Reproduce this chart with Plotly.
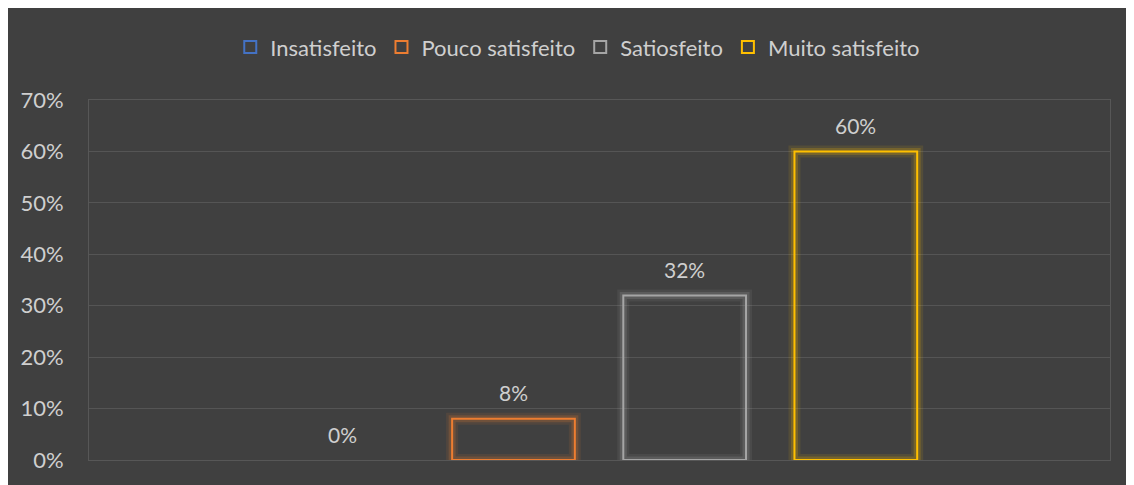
import plotly.graph_objects as go

# ---- data ----
series = ["Insatisfeito", "Pouco satisfeito", "Satiosfeito", "Muito satisfeito"]
values = [0.00, 0.08, 0.32, 0.60]
labels = ["0%", "8%", "32%", "60%"]
colors = ["#4472C4", "#ED7D31", "#A5A5A5", "#FFC000"]
glow = ["rgba(68,114,196,{a})", "rgba(237,125,49,{a})", "rgba(165,165,165,{a})", "rgba(255,192,0,{a})"]
ytick_vals = [0, 0.1, 0.2, 0.3, 0.4, 0.5, 0.6, 0.7]

BG = "#404040"
TXT = "#cfcfcf"
FONT = "Lato"
BAR_W = 0.717

fig = go.Figure()

# glow layers (below)
for i, (s, v) in enumerate(zip(series, values)):
    for w, a in [(12, 0.10), (7, 0.20)]:
        fig.add_trace(go.Bar(
            x=[i], y=[v], width=BAR_W, showlegend=False, hoverinfo="skip",
            marker=dict(color="rgba(0,0,0,0)",
                        line=dict(color=glow[i].format(a=a), width=w if v > 0 else 0)),
        ))

# main bars
for i, (s, v) in enumerate(zip(series, values)):
    fig.add_trace(go.Bar(
        x=[i], y=[v], width=BAR_W, name=s, legendgroup=s, showlegend=False,
        marker=dict(color="rgba(0,0,0,0)", line=dict(color=colors[i], width=2 if v > 0 else 0)),
    ))

# legend entries
for i, s in enumerate(series):
    fig.add_trace(go.Bar(
        x=[None], y=[None], name=s, legendgroup=s, showlegend=True,
        marker=dict(color="rgba(0,0,0,0)", line=dict(color=colors[i], width=2)),
    ))

for i, (v, t) in enumerate(zip(values, labels)):
    fig.add_annotation(x=i, y=v, text=t, showarrow=False, yshift=26, yanchor="middle",
                       font=dict(family=FONT, size=21, color=TXT))

fig.update_layout(
    width=1126, height=477,
    margin=dict(l=79, r=24, t=92, b=25),
    paper_bgcolor=BG, plot_bgcolor=BG,
    barmode="overlay",
    font=dict(family=FONT, color=TXT, size=21),
    legend=dict(orientation="h", xref="container", yref="container", x=0.506, y=0.918,
                xanchor="center", yanchor="middle", font=dict(size=22, color=TXT),
                itemwidth=30, bgcolor="rgba(0,0,0,0)"),
    xaxis=dict(range=[-1.48, 4.485], showticklabels=False, showgrid=False, zeroline=False,
               showline=True, linecolor="#575757", linewidth=1, mirror=True, fixedrange=True),
    yaxis=dict(range=[0, 0.7], tickvals=ytick_vals, tickformat=".0%", showgrid=True,
               gridcolor="#555555", gridwidth=1, zeroline=False, showline=True,
               linecolor="#575757", mirror=True, ticklabelstandoff=20,
               tickfont=dict(size=22, color=TXT)),
)

fig.write_html("out.html")
